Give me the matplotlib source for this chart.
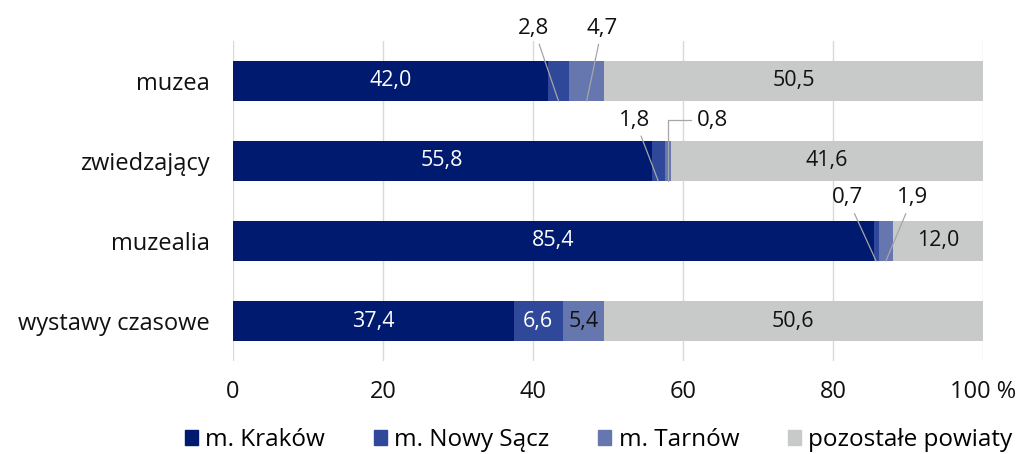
"""Stacked bar chart: museums by district group."""

import matplotlib
matplotlib.use("Agg")
import matplotlib.pyplot as plt
from matplotlib.patches import Patch

categories = ["muzea", "zwiedzający", "muzealia", "wystawy czasowe"]
series = ["m. Kraków", "m. Nowy Sącz", "m. Tarnów", "pozostałe powiaty"]
krakow = [42.0, 55.8, 85.4, 37.4]
nowy_sacz = [2.8, 1.8, 0.7, 6.6]
tarnow = [4.7, 0.8, 1.9, 5.4]
pozostale = [50.5, 41.6, 12.0, 50.6]
values = [krakow, nowy_sacz, tarnow, pozostale]

colors = ["#001a70", "#2f4899", "#6677b0", "#c8c9c9"]
label_colors = ["white", "white", "#111111", "#111111"]
xticks = [0, 20, 40, 60, 80, 100]
xticklabels = ["0", "20", "40", "60", "80", "100 %"]

# small segments labelled outside with leader lines: (row, series, label x, label y)
callouts = [
    (0, 1, 40.1, -0.66),
    (0, 2, 49.2, -0.66),
    (1, 1, 53.6, 0.49),
    (1, 2, 63.9, 0.49),
    (2, 1, 81.9, 1.46),
    (2, 2, 90.6, 1.46),
]

plt.rcParams["font.family"] = ["Open Sans", "DejaVu Sans"]
fig = plt.figure(figsize=(10.32, 4.54), dpi=100)
ax = fig.add_axes([233 / 1032, 1 - 361 / 454, 750 / 1032, 320 / 454])

ypos = list(range(len(categories)))
lefts = [0.0] * len(categories)
starts = []
for k, vals in enumerate(values):
    ax.barh(ypos, vals, left=lefts, height=0.5, color=colors[k], zorder=2)
    starts.append(list(lefts))
    lefts = [l + v for l, v in zip(lefts, vals)]

called = {(r, s) for r, s, _, _ in callouts}
for k, vals in enumerate(values):
    for i, v in enumerate(vals):
        if (i, k) in called:
            continue
        ax.text(starts[k][i] + v / 2, i, f"{v:.1f}".replace(".", ","),
                ha="center", va="center", fontsize=15.5, color=label_colors[k], zorder=3)

for r, s, tx, ty in callouts:
    v = values[s][r]
    cx = starts[s][r] + v / 2
    style = dict(arrowstyle="-", color="#a6a6a6", lw=0.9, shrinkA=2, shrinkB=0)
    if (r, s) == (1, 2):
        style["connectionstyle"] = "angle,angleA=0,angleB=90,rad=0"
    ax.annotate(f"{v:.1f}".replace(".", ","), xy=(cx, r + 0.25), xytext=(tx, ty),
                ha="center", va="center", fontsize=16, color="#111111",
                arrowprops=style, annotation_clip=False, zorder=3)

ax.set_xlim(0, 100)
ax.set_ylim(3.5, -0.5)
ax.set_yticks(ypos)
ax.set_yticklabels(categories, fontsize=17, color="#111111")
ax.set_xticks(xticks)
ax.set_xticklabels(xticklabels, fontsize=17, color="#111111")
ax.tick_params(length=0, pad=17, axis="y")
ax.tick_params(length=0, pad=14, axis="x")
ax.grid(axis="x", color="#d9d9d9", lw=1, zorder=0)
for sp in ax.spines.values():
    sp.set_visible(False)

handles = [Patch(color=c) for c in colors]
fig.legend(handles, series, loc="center", bbox_to_anchor=(0.58, 1 - 440 / 454),
           ncol=4, frameon=False, fontsize=17.5, handlelength=0.55, handleheight=0.55,
           handletextpad=0.3, columnspacing=2.0)

fig.savefig("out.png", dpi=100)
plt.close(fig)
